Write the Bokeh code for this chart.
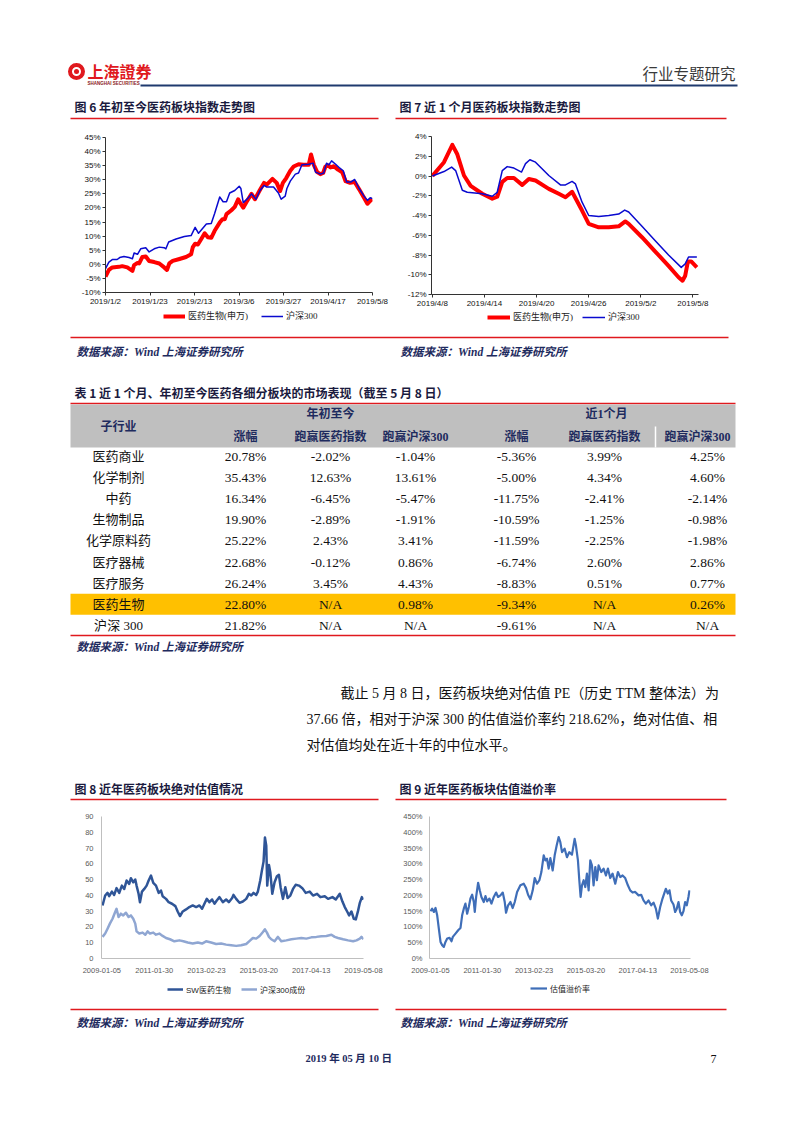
from bokeh.plotting import figure
from bokeh.layouts import column, row
from bokeh.models import Range1d, FixedTicker, Legend, LegendItem
from bokeh.core.properties import value
from bokeh.embed import file_html
from bokeh.resources import INLINE

CJK = "Noto Sans CJK SC"
SANS = "Liberation Sans, Noto Sans CJK SC"
SERIF = "Liberation Serif, Noto Sans CJK SC"

# ---------------- data ----------------
# Fig 6: YTD index trend (x = days since 2019/1/2, y = % change)
c6_ticks = [0, 21, 42, 63, 84, 105, 126]
c6_labels = ["2019/1/2", "2019/1/23", "2019/2/13", "2019/3/6", "2019/3/27", "2019/4/17", "2019/5/8"]
c6_red_day = [0, 1.6, 3.2, 6.3, 7.9, 10.3, 12.7, 13.5, 15.1, 15.9, 17.4, 19.0, 20.6, 23.0, 25.4,
              27.7, 29.0, 30.1, 31.7, 34.9, 38.0, 40.4, 41.2, 42.3, 43.6, 45.2, 46.8, 48.3, 49.9, 51.5,
              53.9, 55.2, 56.3, 57.1, 59.4, 61.0, 62.6, 63.7, 65.0, 66.6, 68.9, 70.5, 72.6, 74.8, 76.1,
              78.8, 80.8, 82.4, 83.7, 85.3, 87.2, 88.8, 91.1, 93.5, 95.9, 97.0, 98.3, 99.9, 101.4, 102.7,
              103.8, 105.1, 106.2, 107.8, 109.7, 111.7, 113.3, 115.4, 117.6, 119.7, 122.0, 123.6, 124.9, 126.0]
c6_red_val = [-4.4, -2.0, -1.1, -0.9, -0.65, -1.1, -2.3, -0.3, 0.5, 0.3, 2.6, 2.8, 1.2, 0.8, 0.3,
              -1.1, -2.0, 0.3, 1.2, 1.9, 2.6, 3.55, 6.1, 7.3, 7.05, 9.0, 11.0, 9.6, 9.4, 11.9,
              14.8, 16.0, 16.0, 17.8, 19.2, 20.4, 23.1, 21.6, 20.1, 22.2, 25.0, 23.1, 26.0, 28.9, 28.3,
              30.3, 28.9, 26.0, 28.9, 30.6, 33.2, 34.7, 35.5, 35.3, 35.3, 39.0, 35.3, 32.7, 32.0, 32.4,
              34.7, 35.1, 34.4, 34.8, 33.6, 32.7, 29.5, 28.9, 29.2, 26.6, 23.6, 21.5, 22.5, 23.1]
c6_blue_day = [0, 1.6, 3.2, 5.5, 6.7, 8.7, 11.1, 12.7, 13.5, 15.1, 16.6, 19.0, 20.6, 23.0, 25.4,
               27.7, 28.5, 29.8, 33.3, 37.2, 40.4, 42.3, 43.9, 46.0, 47.6, 49.9, 51.5, 53.9, 55.5, 57.1,
               58.6, 61.0, 63.1, 63.9, 65.0, 67.4, 68.9, 71.0, 72.9, 74.8, 76.1, 79.3, 81.6, 82.9, 84.8,
               85.6, 87.2, 89.6, 91.1, 92.7, 95.9, 98.0, 99.1, 101.4, 103.0, 104.3, 105.4, 106.7, 108.6, 110.6,
               112.2, 113.8, 115.7, 117.6, 119.7, 122.0, 123.6, 124.9, 126.0]
c6_blue_val = [-1.5, 0.8, 1.7, 1.7, 2.4, 2.8, 2.4, 2.0, 4.0, 3.55, 5.5, 5.9, 4.4, 5.5, 6.1,
               5.9, 5.5, 7.9, 9.0, 9.9, 10.2, 13.1, 11.0, 12.9, 14.3, 14.5, 18.0, 23.9, 22.2, 22.2,
               25.3, 26.2, 27.7, 26.9, 21.9, 23.6, 25.0, 23.1, 26.2, 28.0, 27.4, 27.4, 25.3, 23.1, 24.2,
               26.9, 29.5, 32.0, 32.4, 35.3, 35.5, 35.9, 32.7, 32.0, 32.4, 35.9, 35.3, 36.7, 35.5, 34.1,
               33.2, 29.2, 29.2, 30.1, 26.9, 24.2, 22.7, 23.6, 23.3]

# Fig 7: last-month trend (x = days since 2019/4/8)
c7_ticks = [0, 6, 12, 18, 24, 30]
c7_labels = ["2019/4/8", "2019/4/14", "2019/4/20", "2019/4/26", "2019/5/2", "2019/5/8"]
c7_red_day = [0, 1.34, 2.30, 2.87, 3.64, 4.41, 5.75, 6.90, 7.47, 8.05, 8.62, 9.39, 10.34, 11.11, 11.88,
              13.41, 14.56, 15.33, 16.09, 17.24, 18.01, 19.16, 20.31, 21.46, 22.22, 22.61, 24.14, 25.67,
              27.20, 28.35, 28.81, 29.12, 29.43, 29.81, 30.46]
c7_red_val = [0, 1.4, 3.15, 2.2, 0.05, -1.0, -1.8, -2.3, -2.1, -0.6, -0.2, -0.2, -0.9, -0.3, -0.45,
              -1.3, -1.8, -2.15, -1.6, -3.5, -4.85, -5.2, -5.2, -5.1, -4.6, -4.85, -6.2, -7.65,
              -9.1, -10.25, -10.6, -10.1, -8.65, -8.65, -9.25]
c7_blue_day = [0, 1.34, 2.22, 2.68, 3.45, 4.02, 5.75, 6.90, 7.47, 8.05, 8.62, 9.39, 10.27, 10.73, 11.23,
               11.88, 13.41, 14.75, 15.33, 16.09, 16.48, 17.24, 18.01, 19.16, 20.31, 21.46, 22.15, 22.61,
               24.14, 25.67, 27.20, 28.66, 29.12, 29.50, 30.46]
c7_blue_val = [0, 0.45, 0.9, 0.55, -1.45, -1.65, -1.8, -2.05, -1.65, 0.55, 0.95, 0.8, 0.4, 1.25, 1.65,
               1.4, 0.05, -0.9, -0.9, -0.55, -0.8, -2.65, -4.0, -4.1, -4.0, -3.85, -3.45, -3.65,
               -5.1, -6.55, -8.0, -9.25, -8.9, -8.2, -8.2]

# Fig 8 / 9: valuation (x = days since 2009-01-05)
val_ticks = [0, 755, 1510, 2265, 3020, 3775]
val_labels = ["2009-01-05", "2011-01-30", "2013-02-23", "2015-03-20", "2017-04-13", "2019-05-08"]
c8_sw_day = [10, 48, 82, 106, 145, 178, 212, 251, 289, 323, 357, 395, 419, 453, 482, 501, 530, 550, 579, 612,
             646, 675, 709, 742, 781, 820, 853, 877, 926, 964, 1012, 1061, 1094, 1128, 1167, 1215, 1263, 1311,
             1360, 1408, 1446, 1480, 1514, 1552, 1591, 1625, 1658, 1697, 1745, 1793, 1832, 1880, 1899, 1938,
             1986, 2034, 2083, 2121, 2155, 2189, 2227, 2251, 2285, 2309, 2333, 2353, 2372, 2386, 2411, 2430,
             2459, 2492, 2526, 2555, 2579, 2613, 2647, 2680, 2719, 2758, 2796, 2844, 2893, 2941, 2999, 3047,
             3105, 3153, 3216, 3264, 3327, 3375, 3433, 3471, 3505, 3539, 3568, 3601, 3635, 3664, 3698, 3722,
             3751, 3775]
c8_sw_pe = [33.6, 39.9, 41.6, 39.5, 42.4, 40.3, 44.6, 41.6, 46.2, 44.1, 49.4, 47.3, 50.9, 48.3, 50.0, 46.2,
            41.0, 35.7, 42.4, 44.1, 46.2, 49.4, 52.5, 47.9, 46.2, 41.6, 43.1, 39.5, 37.8, 35.7, 34.7, 33.2,
            29.8, 26.9, 29.8, 31.1, 32.6, 33.6, 32.6, 33.6, 31.5, 34.7, 37.8, 35.7, 37.4, 34.7, 36.8, 38.9,
            35.7, 37.4, 35.7, 38.3, 40.3, 37.8, 35.3, 36.1, 37.8, 41.0, 39.9, 41.6, 40.3, 42.4, 49.4, 55.7,
            61.4, 76.7, 71.5, 46.2, 59.3, 54.7, 41.0, 48.3, 52.1, 53.0, 45.2, 37.8, 45.2, 38.3, 39.9, 44.1,
            46.7, 46.2, 44.6, 41.6, 42.4, 39.9, 41.0, 38.9, 39.5, 37.8, 38.9, 37.4, 41.0, 36.1, 32.6, 29.8,
            27.3, 29.8, 25.2, 24.8, 30.5, 35.3, 38.9, 37.4]
c8_hs_day = [10, 48, 82, 116, 154, 188, 212, 241, 275, 309, 347, 386, 419, 453, 482, 501, 540, 588, 627, 660,
             694, 742, 781, 829, 877, 926, 983, 1046, 1118, 1176, 1239, 1311, 1384, 1446, 1504, 1576, 1649,
             1721, 1793, 1866, 1938, 2010, 2083, 2141, 2179, 2227, 2276, 2324, 2353, 2382, 2411, 2444, 2492,
             2541, 2589, 2661, 2734, 2806, 2878, 2950, 3023, 3095, 3167, 3240, 3312, 3360, 3408, 3481, 3553,
             3625, 3674, 3722, 3746, 3775]
c8_hs_pe = [13.7, 15.8, 18.9, 22.1, 25.2, 29.0, 31.5, 26.3, 28.4, 27.3, 29.0, 26.3, 27.3, 25.2, 22.1, 17.2,
            15.8, 16.4, 15.1, 17.2, 15.8, 16.4, 15.1, 15.8, 14.3, 13.0, 12.2, 10.9, 11.5, 10.9, 10.1, 9.45,
            10.1, 9.45, 10.9, 10.1, 9.2, 9.45, 8.8, 8.4, 8.0, 8.4, 9.2, 11.5, 13.0, 12.6, 14.3, 16.8, 18.5,
            16.4, 13.7, 12.2, 10.9, 13.7, 10.9, 11.5, 12.2, 12.6, 13.0, 12.6, 13.4, 13.7, 14.1, 14.3, 15.1,
            13.7, 13.0, 12.2, 11.5, 10.9, 11.5, 12.6, 13.7, 12.2]
c9_day = [0, 24, 49, 73, 97, 121, 146, 170, 194, 218, 243, 277, 306, 325, 364, 403, 437, 461, 485, 509,
          534, 558, 582, 607, 631, 645, 665, 694, 718, 742, 776, 801, 825, 859, 888, 922, 956, 985, 1019, 1053,
          1082, 1101, 1131, 1164, 1198, 1228, 1262, 1310, 1359, 1393, 1422, 1456, 1490, 1519, 1553, 1587, 1616,
          1650, 1674, 1698, 1722, 1747, 1781, 1810, 1839, 1868, 1892, 1917, 1955, 1989, 2023, 2062, 2101, 2120,
          2149, 2169, 2188, 2208, 2232, 2256, 2280, 2305, 2329, 2353, 2377, 2402, 2426, 2450, 2489, 2523,
          2557, 2586, 2620, 2654, 2693, 2732, 2766, 2800, 2838, 2877, 2911, 2945, 2984, 3033, 3071, 3105,
          3139, 3178, 3217, 3251, 3285, 3314, 3348, 3382, 3411, 3430, 3459, 3484, 3508, 3542, 3566, 3590,
          3615, 3639, 3663, 3688, 3712, 3736, 3760, 3775]
c9_premium = [149.6, 158, 147.5, 160, 137, 95, 52.6, 42, 36.8, 52.6, 63.2, 65.3, 54.7, 68.4, 79, 89.5, 96.9,
              137, 158, 174, 142, 163, 190, 202, 179, 147.5, 195, 240, 216, 195, 179, 198, 181, 190, 174, 195,
              209, 195, 200, 209, 179, 145, 168.6, 179, 160, 179, 211, 232, 237, 223, 202, 188, 216, 255, 237,
              248, 274, 327, 311, 316, 285, 318, 279, 327, 358, 385, 369, 337, 348, 321, 337, 329, 379, 358,
              311, 248, 195, 232, 248, 226.5, 269, 216, 311, 295, 232, 290, 248, 295, 274, 285, 263, 285, 255,
              269, 237, 274, 258, 263, 255, 232, 216, 209, 211, 200, 202, 184, 174, 184, 168.6, 177, 158, 126.4,
              163, 190, 209, 221, 206, 216, 184, 171, 147.5, 158, 179, 147.5, 137, 150, 179, 168.6, 195, 216]

# Table 1
sub_industry = ["医药商业", "化学制剂", "中药", "生物制品", "化学原料药", "医疗器械", "医疗服务", "医药生物", "沪深 300"]
ytd_gain = ["20.78%", "35.43%", "16.34%", "19.90%", "25.22%", "22.68%", "26.24%", "22.80%", "21.82%"]
ytd_vs_pharma = ["-2.02%", "12.63%", "-6.45%", "-2.89%", "2.43%", "-0.12%", "3.45%", "N/A", "N/A"]
ytd_vs_hs300 = ["-1.04%", "13.61%", "-5.47%", "-1.91%", "3.41%", "0.86%", "4.43%", "0.98%", "N/A"]
m1_gain = ["-5.36%", "-5.00%", "-11.75%", "-10.59%", "-11.59%", "-6.74%", "-8.83%", "-9.34%", "-9.61%"]
m1_vs_pharma = ["3.99%", "4.34%", "-2.41%", "-1.25%", "-2.25%", "2.60%", "0.51%", "N/A", "N/A"]
m1_vs_hs300 = ["4.25%", "4.60%", "-2.14%", "-0.98%", "-1.98%", "2.86%", "0.77%", "0.26%", "N/A"]
highlight_row = "医药生物"

RED = "#E0191E"
NAVY = "#1E2B5E"
TITLE = "#1A1A3E"
PAGE_W = 794
C6_RED, C6_BLUE = "#FF0000", "#0A0ACF"
C8_SW, C8_HS, C9_COL = "#2F5597", "#8FA6D2", "#3F6EB8"


# ---------------- helpers ----------------
def band(h, top):
    p = figure(width=PAGE_W, height=h, x_range=Range1d(0, PAGE_W), y_range=Range1d(top + h, top),
               x_axis_type=None, y_axis_type=None, output_backend="svg",
               toolbar_location=None, min_border=0)
    p.outline_line_color = None
    return p


def txt(p, x, y, s, size, color="#000000", font=CJK, style="normal", align="left"):
    xs = x if isinstance(x, list) else [x]
    ys = y if isinstance(y, list) else [y] * len(xs)
    ss = s if isinstance(s, list) else [s]
    p.text(x=xs, y=ys, text=ss, text_font=value(font), text_font_size=value(f"{size}px"),
           text_font_style=style, text_color=color, text_align=align, text_baseline="middle")


def hline(p, x0, x1, y, color=RED, w=1.5):
    p.segment(x0=[x0], y0=[y], x1=[x1], y1=[y], line_color=color, line_width=w)


def chart(w, h, xr, yr, ml, mr, mt, mb):
    p = figure(width=w, height=h, x_range=Range1d(*xr), y_range=Range1d(*yr),
               output_backend="svg", toolbar_location=None,
               min_border_left=ml, min_border_right=mr, min_border_top=mt, min_border_bottom=mb)
    p.grid.visible = False
    p.outline_line_color = None
    return p


def axes(p, xt, xl, yt, yl, size, color, axis_color, tick_out, xstand, ystand):
    p.xaxis.ticker = FixedTicker(ticks=xt)
    p.xaxis.major_label_overrides = dict(zip(xt, xl))
    p.yaxis.ticker = FixedTicker(ticks=yt)
    p.yaxis.major_label_overrides = dict(zip(yt, yl))
    for ax in (p.xaxis, p.yaxis):
        ax.axis_line_color = axis_color
        ax.axis_line_width = 1
        ax.major_tick_line_color = axis_color if tick_out else None
        ax.major_tick_out = tick_out
        ax.major_tick_in = 0
        ax.minor_tick_line_color = None
        ax.major_label_text_font = "Liberation Sans"
        ax.major_label_text_font_size = f"{size}px"
        ax.major_label_text_color = color
    p.xaxis.major_label_standoff = xstand
    p.yaxis.major_label_standoff = ystand


def legend_fig(w, h, items, loc, gw, spacing, font_size, font):
    # legend strip below a chart; its frame is aligned with the chart frame above it
    f = figure(width=w, height=h, x_range=Range1d(0, 1), y_range=Range1d(0, 1),
               x_axis_type=None, y_axis_type=None, output_backend="svg",
               toolbar_location=None, min_border=0)
    f.outline_line_color = None
    lis = []
    for label, color, lw in items:
        r = f.line(x=[-5, -4], y=[-5, -4], line_color=color, line_width=lw)
        lis.append(LegendItem(label=label, renderers=[r]))
    lg = Legend(items=lis, location=loc, orientation="horizontal", border_line_color=None,
                background_fill_alpha=0, padding=0, margin=0, spacing=spacing, glyph_width=gw,
                glyph_height=12, label_standoff=3, label_text_font=font,
                label_text_font_size=f"{font_size}px", label_height=12, label_text_color="#222222")
    f.add_layout(lg)
    return f


# ---------------- band A: header + titles of fig 6/7 ----------------
pa = band(128, 0)
pa.annulus(x=[76], y=[71], inner_radius=4.5, outer_radius=8.5, fill_color=RED, line_color=None)
pa.scatter(x=[76], y=[71], size=5, marker="circle", fill_color=RED, line_color=None)
txt(pa, 87, 70, "上海證券", 16, RED, "Noto Sans CJK TC", "bold")
txt(pa, 87, 83, "SHANGHAI SECURITIES", 4.5, "#8B1A1A", "Liberation Sans", "bold")
txt(pa, 735, 72, "行业专题研究", 15.5, "#3A3A3A", CJK, "normal", "right")
hline(pa, 140, 737, 85, "#1F3A6E", 2)
txt(pa, 74, 106, "图 6  年初至今医药板块指数走势图", 12, TITLE, CJK, "bold")
txt(pa, 399, 106, "图 7  近 1 个月医药板块指数走势图", 12, TITLE, CJK, "bold")
hline(pa, 70, 378, 118)
hline(pa, 395, 726, 118)

# ---------------- fig 6 ----------------
p6 = chart(395, 180, (0, 126), (-10, 45), 105, 23, 9, 16)
p6.line(c6_red_day, c6_red_val, line_color=C6_RED, line_width=4, line_join="round")
p6.line(c6_blue_day, c6_blue_val, line_color=C6_BLUE, line_width=1.5, line_join="round")
yt6 = list(range(-10, 50, 5))
axes(p6, c6_ticks, c6_labels, yt6, [f"{v}%" for v in yt6], 8, "#111111", "#333333", 3, 1, 2)
l6 = legend_fig(395, 22, [("医药生物(申万)", C6_RED, 4), ("沪深300", C6_BLUE, 1.5)], (58, 8), 22, 13, 9, SERIF)

# ---------------- fig 7 ----------------
p7 = chart(399, 182, (-0.1, 30.65), (-12, 4), 36, 96, 8, 16)
p7.line(c7_red_day, c7_red_val, line_color=C6_RED, line_width=4, line_join="round")
p7.line(c7_blue_day, c7_blue_val, line_color=C6_BLUE, line_width=1.5, line_join="round")
yt7 = list(range(-12, 6, 2))
axes(p7, c7_ticks, c7_labels, yt7, [f"{v}%" for v in yt7], 8, "#111111", "#333333", 3, 1, 2)
l7 = legend_fig(399, 20, [("医药生物(申万)", C6_RED, 4), ("沪深300", C6_BLUE, 1.5)], (56, 7), 23, 9, 9, SERIF)

# ---------------- band C: sources, table, paragraph, titles of fig 8/9 ----------------
pc = band(475, 330)
hline(pc, 70, 728, 337)
txt(pc, 76, 351, "数据来源：Wind 上海证券研究所", 11.5, NAVY, SERIF, "bold italic")
txt(pc, 400, 351, "数据来源：Wind 上海证券研究所", 11.5, NAVY, SERIF, "bold italic")
txt(pc, 74, 392, "表 1  近 1 个月、年初至今医药各细分板块的市场表现（截至 5 月 8 日）", 12, TITLE, CJK, "bold")
hline(pc, 70, 735, 403)
pc.quad(left=[70], right=[735], top=[404], bottom=[447], fill_color="#BFBFBF", line_color=None)
pc.segment(x0=[655], y0=[426], x1=[655], y1=[447], line_color="white", line_width=1.5)
col_x = [118, 245, 330, 415, 516, 604, 707]
txt(pc, 118, 425, "子行业", 12, NAVY, CJK, "bold", "center")
txt(pc, [330, 606], 413, ["年初至今", "近1个月"], 12, NAVY, SERIF, "bold", "center")
txt(pc, [245, 330, 415, 516, 604, 697], 436,
    ["涨幅", "跑赢医药指数", "跑赢沪深300", "涨幅", "跑赢医药指数", "跑赢沪深300"], 12, NAVY, SERIF, "bold", "center")
row_y = [456 + 21.1 * i for i in range(len(sub_industry))]
hi = sub_industry.index(highlight_row)
pc.quad(left=[70], right=[735], top=[row_y[hi] - 10.5], bottom=[row_y[hi] + 10.5],
        fill_color="#FFC000", line_color=None)
txt(pc, [col_x[0]] * len(sub_industry), row_y, sub_industry, 13, "#111111", SERIF, "normal", "center")
for ci, colvals in enumerate([ytd_gain, ytd_vs_pharma, ytd_vs_hs300, m1_gain, m1_vs_pharma, m1_vs_hs300]):
    txt(pc, [col_x[ci + 1]] * len(colvals), row_y, colvals, 13.5, "#111111", SERIF, "normal", "center")
hline(pc, 70, 735, 635)
txt(pc, 76, 646, "数据来源：Wind  上海证券研究所", 11.5, NAVY, SERIF, "bold italic")
txt(pc, 340, 693, "截止 5 月 8 日，医药板块绝对估值 PE（历史 TTM 整体法）为", 14, "#111111", SERIF)
txt(pc, 306, 719, "37.66 倍，相对于沪深 300 的估值溢价率约 218.62%，绝对估值、相", 14, "#111111", SERIF)
txt(pc, 306, 745, "对估值均处在近十年的中位水平。", 14, "#111111", SERIF)
txt(pc, 74, 788, "图 8  近年医药板块绝对估值情况", 12, TITLE, CJK, "bold")
txt(pc, 399, 788, "图 9  近年医药板块估值溢价率", 12, TITLE, CJK, "bold")
hline(pc, 70, 378, 799)
hline(pc, 395, 726, 799)

# ---------------- fig 8 ----------------
p8 = chart(395, 173, (-5, 3775), (0, 90), 101, 32, 11, 20)
p8.line(c8_sw_day, c8_sw_pe, line_color=C8_SW, line_width=2.5, line_join="round")
p8.line(c8_hs_day, c8_hs_pe, line_color=C8_HS, line_width=2.5, line_join="round")
yt8 = list(range(0, 100, 10))
axes(p8, val_ticks, val_labels, yt8, [str(v) for v in yt8], 7.5, "#595959", "#BFBFBF", 0, 9, 8)
l8 = legend_fig(395, 22, [("SW医药生物", C8_SW, 2.5), ("沪深300成份", C8_HS, 2.5)], (66, 5), 16, 10, 8, SANS)

# ---------------- fig 9 ----------------
p9 = chart(399, 173, (-15, 3790), (0, 450), 34, 104, 11, 20)
p9.line(c9_day, c9_premium, line_color=C9_COL, line_width=2.2, line_join="round")
yt9 = list(range(0, 500, 50))
axes(p9, val_ticks, val_labels, yt9, [f"{v}%" for v in yt9], 7.5, "#595959", "#BFBFBF", 0, 9, 7)
l9 = legend_fig(399, 22, [("估值溢价率", C9_COL, 2.2)], (101, 6), 17, 10, 8, SANS)

# ---------------- band E: sources + footer ----------------
pe = band(125, 1000)
hline(pe, 70, 378, 1009)
hline(pe, 395, 726, 1009)
txt(pe, 76, 1022, "数据来源：Wind 上海证券研究所", 11.5, NAVY, SERIF, "bold italic")
txt(pe, 400, 1022, "数据来源：Wind 上海证券研究所", 11.5, NAVY, SERIF, "bold italic")
txt(pe, 305, 1058, "2019 年 05 月 10 日", 10.5, NAVY, SERIF, "bold")
txt(pe, 713, 1058, "7", 12, "#111111", SERIF, "normal", "center")

layout = column(pa,
                row(column(p6, l6), column(p7, l7)),
                pc,
                row(column(p8, l8), column(p9, l9)),
                pe)
open("out.html", "w").write(file_html(layout, INLINE))
